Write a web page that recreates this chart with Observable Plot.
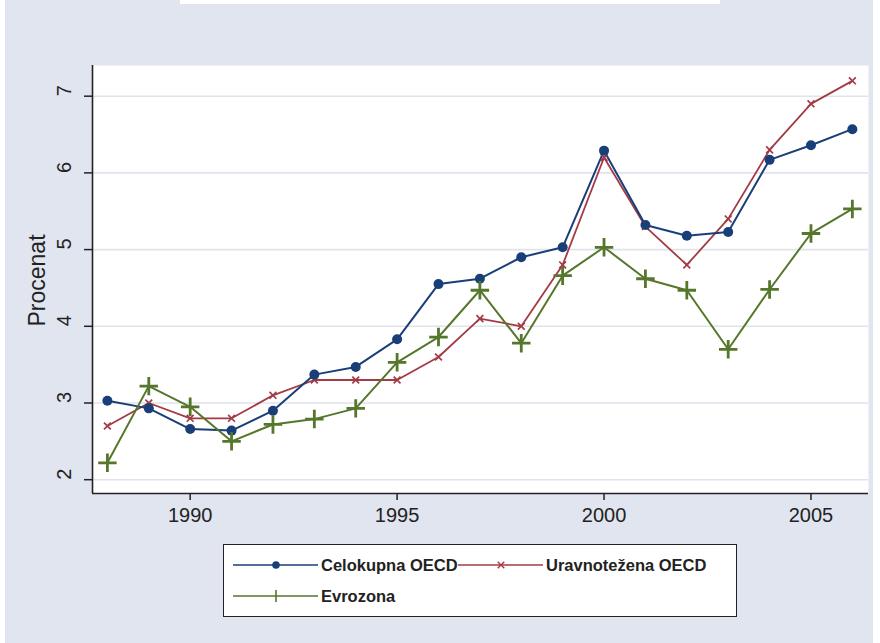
<!DOCTYPE html>
<html>
<head>
<meta charset="utf-8">
<script src="https://cdn.jsdelivr.net/npm/d3@7"></script>
<script src="https://cdn.jsdelivr.net/npm/@observablehq/plot@0.6"></script>
<style>
  html, body { margin: 0; padding: 0; background: #ffffff; }
  #page { position: relative; width: 880px; height: 643px; background: #ffffff; overflow: hidden; font-family: "Liberation Sans", Arial, sans-serif; }
  #bg { position: absolute; left: 5px; top: 0; width: 868px; height: 643px; background: #e0e5f0; }
  #topstrip { position: absolute; left: 180px; top: 0; width: 540px; height: 4px; background: #ffffff; }
  #chart { position: absolute; left: 0; top: 0; }
  #legend { position: absolute; left: 223px; top: 544px; width: 514px; height: 73px; background: #ffffff; box-sizing: border-box; border: 1.5px solid #222; }
</style>
</head>
<body>
<div id="page">
  <div id="bg"></div>
  <div id="topstrip"></div>
  <div id="chart"></div>
  <div id="legend"></div>
</div>
<script>
const years = [1988, 1989, 1990, 1991, 1992, 1993, 1994, 1995, 1996, 1997, 1998, 1999, 2000, 2001, 2002, 2003, 2004, 2005, 2006];
const celokupna = [3.03, 2.93, 2.66, 2.64, 2.90, 3.37, 3.47, 3.83, 4.55, 4.62, 4.90, 5.03, 6.29, 5.32, 5.18, 5.23, 6.17, 6.36, 6.57];
const uravnotezena = [2.70, 3.00, 2.80, 2.80, 3.10, 3.30, 3.30, 3.30, 3.60, 4.10, 4.00, 4.80, 6.20, 5.30, 4.80, 5.40, 6.30, 6.90, 7.20];
const evrozona = [2.22, 3.22, 2.95, 2.50, 2.72, 2.79, 2.93, 3.53, 3.86, 4.47, 3.78, 4.66, 5.03, 4.62, 4.47, 3.70, 4.48, 5.21, 5.53];
const seriesNames = ["Celokupna OECD", "Uravnotežena OECD", "Evrozona"];
const colors = ["#1a3f78", "#a33a45", "#55762b"];
const xTicks = [1990, 1995, 2000, 2005];
const yTicks = [2, 3, 4, 5, 6, 7];
const yTitle = "Procenat";

const toRows = (vals) => years.map((y, i) => ({year: y, value: vals[i]}));
const rowsC = toRows(celokupna);
const rowsU = toRows(uravnotezena);
const rowsE = toRows(evrozona);

const xDomain = [1987.64, 2006.39];
const yDomain = [1.82, 7.40];

const chart = Plot.plot({
  width: 880,
  height: 535,
  marginLeft: 92,
  marginRight: 12,
  marginTop: 65,
  marginBottom: 42,
  style: { background: "transparent", fontFamily: "'Liberation Sans', Arial, sans-serif", color: "#222" },
  x: { domain: xDomain, type: "linear" },
  y: { domain: yDomain, type: "linear" },
  marks: [
    Plot.frame({ fill: "#ffffff", stroke: null }),
    Plot.gridY(yTicks, { stroke: "#dfe4ec", strokeOpacity: 1, strokeWidth: 1.6 }),
    Plot.axisX(xTicks, { tickSize: 7, tickPadding: 7, fontSize: 20, tickFormat: d => String(d), label: null, stroke: "#222", strokeWidth: 1.5 }),
    Plot.axisY(yTicks, { tickSize: 8, tickFormat: () => "", label: null, stroke: "#222", strokeWidth: 1.5 }),
    Plot.text(yTicks, { y: d => d, text: d => String(d), frameAnchor: "left", dx: -28, rotate: -90, fontSize: 20, fill: "#222" }),
    Plot.text([yTitle], { text: d => d, frameAnchor: "left", dx: -55, dy: 47, rotate: -90, fontSize: 23, fill: "#222" }),
    Plot.ruleX([xDomain[0]], { stroke: "#222", strokeWidth: 1.6 }),
    Plot.ruleY([yDomain[0]], { stroke: "#222", strokeWidth: 1.6 }),
    Plot.line(rowsU, { x: "year", y: "value", stroke: colors[1], strokeWidth: 1.8 }),
    Plot.line(rowsC, { x: "year", y: "value", stroke: colors[0], strokeWidth: 2 }),
    Plot.line(rowsE, { x: "year", y: "value", stroke: colors[2], strokeWidth: 2 }),
    Plot.dot(rowsU, { x: "year", y: "value", symbol: "times", r: 3.2, stroke: colors[1], strokeWidth: 1.7 }),
    Plot.dot(rowsC, { x: "year", y: "value", symbol: "circle", r: 5, fill: colors[0], stroke: null }),
    Plot.dot(rowsE, { x: "year", y: "value", symbol: "plus", r: 6, stroke: colors[2], strokeWidth: 2.8 })
  ]
});
document.getElementById("chart").appendChild(chart);

// Legend
const legend = d3.select("#legend").append("svg")
  .attr("width", 511).attr("height", 70)
  .style("display", "block")
  .style("font-family", "'Liberation Sans', Arial, sans-serif");
const items = [
  { name: seriesNames[0], color: colors[0], x: 9, y: 20, marker: "circle" },
  { name: seriesNames[1], color: colors[1], x: 234, y: 20, marker: "times" },
  { name: seriesNames[2], color: colors[2], x: 9, y: 51, marker: "plus" }
];
items.forEach(it => {
  const g = legend.append("g");
  g.append("line").attr("x1", it.x).attr("x2", it.x + 85).attr("y1", it.y).attr("y2", it.y)
    .attr("stroke", it.color).attr("stroke-width", 1.6);
  const mx = it.x + 43;
  if (it.marker === "circle") {
    g.append("circle").attr("cx", mx).attr("cy", it.y).attr("r", 3.8).attr("fill", it.color);
  } else if (it.marker === "times") {
    g.append("path").attr("d", d3.symbol(d3.symbolTimes, 30)()).attr("transform", `translate(${mx},${it.y})`)
      .attr("stroke", it.color).attr("stroke-width", 1.4).attr("fill", "none");
  } else {
    g.append("line").attr("x1", mx).attr("x2", mx).attr("y1", it.y - 6).attr("y2", it.y + 6)
      .attr("stroke", it.color).attr("stroke-width", 1.6);
  }
  g.append("text").attr("x", it.x + 88).attr("y", it.y).attr("dy", "0.36em")
    .attr("font-size", 16.5).attr("font-weight", "bold").attr("fill", "#222").text(it.name);
});
</script>
</body>
</html>
